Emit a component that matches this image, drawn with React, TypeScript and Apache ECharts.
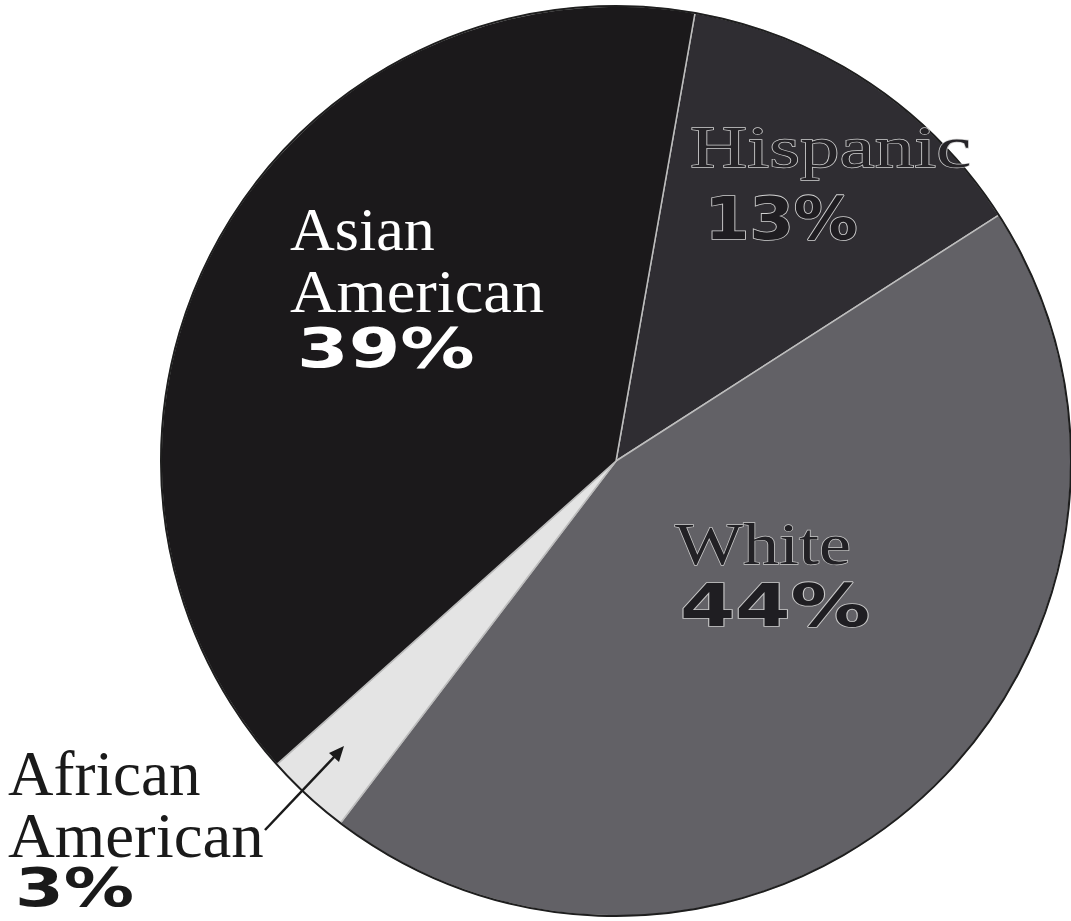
import React, { useEffect, useRef } from "react";
import * as echarts from "echarts";

const categories = ["Hispanic", "White", "African American", "Asian American"];
const values = [13, 44, 3, 39];
const sliceColors = ["#2f2d32", "#626166", "#e4e4e4", "#1b191b"];

const SERIF = "'Liberation Serif', 'DejaVu Serif', serif";
const HEAVY = "'DejaVu Sans', sans-serif";

export default function App() {
  const ref = useRef<HTMLDivElement>(null);
  useEffect(() => {
    if (!ref.current) return;
    const chart = echarts.init(ref.current, null, { renderer: "svg" });
    const cx = 616;
    const cy = 461;
    const r = 455;

    const pct = (i: number) => `${values[i]}%`;
    const nameLines = (i: number) => categories[i].split(" ");

    const txt = (
      text: string,
      x: number,
      y: number,
      font: string,
      size: number,
      weight: string,
      fill: string,
      scaleX = 1,
      stroke?: string,
      lineWidth = 0
    ) => ({
      type: "text",
      x,
      y,
      scaleX,
      silent: true,
      z: 10,
      style: {
        text,
        x: 0,
        y: 0,
        fontFamily: font,
        fontSize: size,
        fontWeight: weight,
        fill,
        stroke,
        lineWidth,
        align: "left",
        verticalAlign: "middle",
      },
    });

    const asian = nameLines(3);
    const african = nameLines(2);

    const graphic: any[] = [
      {
        type: "circle",
        shape: { cx, cy, r },
        silent: true,
        z: 5,
        style: { fill: "none", stroke: "#1e1e1e", lineWidth: 2 },
      },
      // Asian American
      txt(asian[0], 290, 229, SERIF, 62, "normal", "#ffffff"),
      txt(asian[1], 290, 291, SERIF, 62, "normal", "#ffffff", 1.04),
      txt(pct(3), 297, 348, HEAVY, 55, "bold", "#ffffff", 1.35),
      // Hispanic
      txt(categories[0], 690, 147, SERIF, 60, "normal", "#252327", 1.32, "#d0d0d0", 1.3),
      txt(pct(0), 705, 219, HEAVY, 58, "bold", "#1f1d21", 1.1, "#d0d0d0", 1.6),
      // White
      txt(categories[1], 675, 544, SERIF, 60, "normal", "#222125", 1.2, "#c8c8c8", 1.3),
      txt(pct(1), 680, 606, HEAVY, 58, "bold", "#1f1e22", 1.37, "#c8c8c8", 1.6),
      // African American
      txt(african[0], 8, 774, SERIF, 63, "normal", "#1a1a1a"),
      txt(african[1], 8, 836, SERIF, 63, "normal", "#1a1a1a", 1.03),
      txt(pct(2), 15, 887, HEAVY, 54, "bold", "#1a1a1a", 1.3),
      // arrow
      {
        type: "line",
        silent: true,
        z: 8,
        shape: { x1: 265, y1: 830, x2: 336, y2: 755 },
        style: { stroke: "#1a1a1a", lineWidth: 2.5 },
      },
      {
        type: "polygon",
        silent: true,
        z: 8,
        shape: {
          points: [
            [344, 746],
            [329, 753],
            [339, 762],
          ],
        },
        style: { fill: "#1a1a1a" },
      },
    ];

    chart.setOption({
      animation: false,
      backgroundColor: "#ffffff",
      series: [
        {
          type: "pie",
          center: [cx, cy],
          radius: r,
          startAngle: 80,
          clockwise: true,
          silent: true,
          label: { show: false },
          labelLine: { show: false },
          emphasis: { disabled: true },
          itemStyle: { borderColor: "#bdbdbd", borderWidth: 1.5 },
          data: categories.map((name, i) => ({
            name,
            value: values[i],
            itemStyle: { color: sliceColors[i] },
          })),
        },
      ],
      graphic,
    });
    return () => chart.dispose();
  }, []);
  return (
    <div
      ref={ref}
      style={{ position: "fixed", left: 0, top: 0, width: 1071, height: 921 }}
    />
  );
}
